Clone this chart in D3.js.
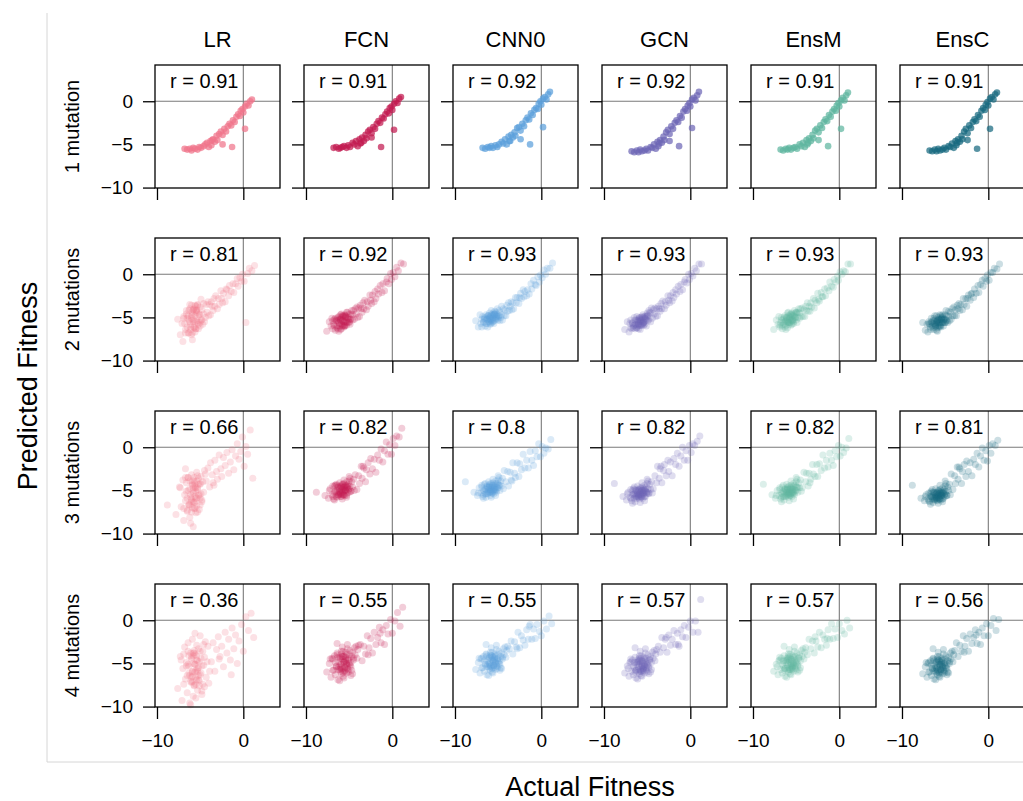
<!DOCTYPE html>
<html>
<head>
<meta charset="utf-8">
<script src="https://cdn.jsdelivr.net/npm/d3@7"></script>
<style>
  html, body { margin: 0; padding: 0; background: #fff; }
  svg { display: block; font-family: "Liberation Sans", Arial, Helvetica, sans-serif; }
</style>
</head>
<body>
<svg id="chart" width="1023" height="801"></svg>
<script>
// Models (columns) and number of mutations (rows)
const models = ["LR", "FCN", "CNN0", "GCN", "EnsM", "EnsC"];
const rowLabels = ["1 mutation", "2 mutations", "3 mutations", "4 mutations"];
const modelColors = ["#f0758a", "#c21a50", "#5b9fdb", "#6e66b6", "#5eb59f", "#176a80"];

// Pearson r for each row x model
const rRow1 = [0.91, 0.91, 0.92, 0.92, 0.91, 0.91];
const rRow2 = [0.81, 0.92, 0.93, 0.93, 0.93, 0.93];
const rRow3 = [0.66, 0.82, 0.8, 0.82, 0.82, 0.81];
const rRow4 = [0.36, 0.55, 0.55, 0.57, 0.57, 0.56];

const xTicks = [-10, 0];
const yTicks = [-10, -5, 0];

// ---- 1 mutation ----
const actual1 = [-6.8,-6.5,-6.2,-6.0,-5.8,-5.6,-5.3,-5.1,-4.9,-4.6,
  -4.4,-4.2,-4.0,-3.8,-3.7,-3.5,-3.3,-3.1,-3.0,-2.8,
  -2.6,-2.4,-2.2,-2.0,-1.8,-1.6,-1.4,-1.2,-1.0,-0.8,
  -0.6,-0.4,-0.3,-0.1,0.0,0.2,0.4,0.6,0.8,1.0,
  -1.3,0.2,-3.6,-2.4];
const lr1 = [-5.5,-5.6,-5.5,-5.7,-5.4,-5.5,-5.6,-5.3,-5.4,-5.2,
  -5.0,-4.8,-5.3,-4.6,-5.1,-4.4,-4.7,-4.0,-4.5,-3.8,
  -3.5,-3.9,-3.2,-3.5,-2.9,-2.6,-2.8,-2.2,-2.4,-1.8,
  -1.5,-1.7,-1.1,-0.9,-1.3,-0.6,-0.3,-0.5,0.0,0.2,
  -5.3,-3.2,-4.5,-5.0];
const fcn1 = [-5.4,-5.3,-5.5,-5.4,-5.3,-5.2,-5.4,-5.1,-5.3,-4.8,
  -5.0,-4.6,-5.2,-4.4,-4.9,-4.2,-4.6,-3.9,-4.3,-3.5,
  -3.3,-3.7,-3.0,-3.2,-2.6,-2.3,-2.5,-1.9,-2.0,-1.5,
  -1.2,-1.4,-0.8,-0.6,-1.0,-0.3,0.0,-0.2,0.3,0.5,
  -5.3,-3.3,-4.8,-4.2];
const cnn1 = [-5.4,-5.5,-5.3,-5.4,-5.2,-5.4,-5.1,-5.3,-5.0,-4.7,
  -4.9,-4.4,-5.0,-4.1,-4.6,-3.9,-4.2,-3.6,-4.0,-3.1,
  -3.0,-3.4,-2.6,-2.9,-2.2,-1.9,-2.1,-1.4,-1.6,-1.0,
  -0.8,-0.9,-0.3,0.0,-0.4,0.3,0.5,0.2,0.8,1.1,
  -5.0,-3.0,-4.6,-4.4];
const gcn1 = [-5.8,-5.9,-5.7,-5.9,-5.6,-5.8,-5.7,-5.5,-5.7,-5.3,
  -5.4,-5.0,-5.5,-4.7,-5.2,-4.5,-4.8,-4.1,-4.5,-3.6,
  -3.3,-3.8,-2.9,-3.2,-2.5,-2.2,-2.4,-1.7,-1.9,-1.2,
  -0.9,-1.1,-0.5,-0.2,-0.6,0.2,0.4,0.1,0.7,1.1,
  -5.2,-3.1,-4.9,-4.6];
const ensm1 = [-5.6,-5.7,-5.5,-5.6,-5.4,-5.6,-5.4,-5.3,-5.5,-5.0,
  -5.2,-4.8,-5.3,-4.5,-5.0,-4.3,-4.6,-3.9,-4.3,-3.4,
  -3.2,-3.6,-2.8,-3.1,-2.4,-2.1,-2.3,-1.6,-1.8,-1.2,
  -0.9,-1.1,-0.5,-0.2,-0.6,0.1,0.4,0.1,0.7,1.0,
  -5.2,-3.2,-4.8,-4.5];
const ensc1 = [-5.7,-5.8,-5.6,-5.8,-5.5,-5.7,-5.6,-5.4,-5.6,-5.2,
  -5.3,-4.9,-5.4,-4.6,-5.1,-4.4,-4.7,-4.0,-4.4,-3.5,
  -3.2,-3.7,-2.8,-3.1,-2.4,-2.1,-2.3,-1.6,-1.8,-1.1,
  -0.8,-1.0,-0.4,-0.1,-0.5,0.3,0.5,0.2,0.8,1.0,
  -5.5,-3.2,-4.8,-4.5];

// ---- 2 mutations ----
const actual2 = [-7.6,-7.3,-7.1,-7.0,-6.9,-6.8,-6.7,-6.6,-6.5,-6.4,
  -6.3,-6.3,-6.2,-6.1,-6.0,-6.0,-5.9,-5.8,-5.8,-5.7,
  -5.6,-5.6,-5.5,-5.4,-5.4,-5.3,-5.2,-5.1,-5.0,-5.0,
  -4.9,-4.8,-4.8,-4.7,-4.6,-4.6,-4.5,-6.2,-5.9,-5.5,
  -4.4,-4.3,-4.2,-4.1,-4.0,-3.9,-3.8,-3.7,-3.6,-3.5,
  -3.4,-3.3,-3.2,-3.0,-2.9,-2.8,-2.6,-2.5,-2.4,-2.3,-2.1,-2.0,
  -1.9,-1.7,-1.6,-1.4,-1.2,-1.1,-0.9,-0.7,-0.6,-0.4,
  -0.2,-0.1,0.1,0.3,0.5,0.7,1.0,1.3,
  -6.9,-6.7,-6.6,-6.4,-6.3,-6.2,-6.1,-6.0,-5.9,-5.9,
  -5.8,-5.7,-5.7,-5.6,-5.5,-5.5,-5.4,-5.3,-5.3,-5.2,
  -5.1,-5.0,-6.5,-6.1,-5.8,-5.6,-5.4,-5.2,-4.9,-6.0];
const lr2 = [-5.2,-7.0,-5.7,-7.8,-4.9,-5.7,-6.8,-4.2,-6.1,-4.8,
  -6.8,-4.2,-5.5,-6.1,-3.6,-7.0,-4.7,-5.5,-4.1,-6.2,
  -4.8,-3.6,-6.3,-4.2,-5.4,-3.6,-6.3,-4.7,-3.8,-5.6,
  -2.9,-5.3,-4.1,-5.8,-3.4,-4.6,-5.5,-3.5,-7.6,-3.7,
  -5.0,-3.5,-4.4,-3.2,-4.8,-3.5,-4.7,-3.2,-3.7,-4.2,
  -2.8,-3.7,-2.5,-4.0,-2.8,-3.5,-1.9,-2.8,-3.3,-2.2,-3.2,-1.7,
  -1.8,-2.5,-1.3,-2.0,-1.1,-2.1,-1.1,-0.5,-1.4,-0.4,
  -0.8,0.0,-0.8,-5.6,0.1,0.7,0.4,1.0,
  -5.1,-6.4,-4.6,-6.8,-5.3,-4.0,-6.4,-4.8,-6.8,-4.4,
  -5.3,-6.1,-4.0,-5.5,-4.2,-6.3,-4.4,-5.6,-3.5,-5.8,
  -4.6,-6.0,-5.1,-5.8,-4.1,-6.7,-4.1,-4.9,-5.3,-5.1];
const fcn2 = [-6.6,-5.5,-6.0,-5.1,-6.3,-5.8,-5.2,-6.5,-5.4,-6.0,
  -5.0,-6.3,-5.6,-5.2,-6.4,-4.7,-5.8,-5.3,-6.0,-4.9,
  -5.5,-6.1,-4.7,-5.6,-5.0,-5.9,-4.4,-5.2,-5.5,-4.6,
  -5.8,-4.6,-5.2,-4.2,-5.3,-4.7,-4.2,-6.6,-4.6,-6.0,
  -5.2,-4.0,-4.6,-3.8,-5.0,-3.9,-4.9,-3.6,-4.0,-4.4,
  -3.3,-4.0,-3.0,-4.1,-3.2,-3.7,-2.4,-3.0,-3.4,-2.4,-3.2,-2.0,
  -2.8,-1.7,-2.3,-1.3,-2.1,-1.1,-1.9,-0.9,-0.5,-1.1,
  0.1,-0.6,0.2,-0.3,0.8,0.4,1.3,1.2,
  -5.4,-6.0,-5.1,-6.2,-5.4,-4.9,-6.0,-5.2,-6.3,-5.0,
  -5.4,-5.9,-4.8,-5.5,-4.8,-5.9,-4.9,-5.5,-4.4,-5.6,
  -5.0,-5.6,-5.3,-5.7,-4.8,-6.0,-4.8,-5.1,-5.2,-5.3];
const cnn2 = [-5.4,-6.1,-4.7,-5.7,-6.1,-4.9,-5.5,-5.2,-6.0,-4.7,
  -5.7,-5.2,-6.1,-4.8,-4.5,-5.5,-5.8,-4.2,-5.3,-5.6,
  -4.5,-5.0,-5.7,-4.6,-4.3,-5.3,-4.9,-4.0,-5.3,-4.9,
  -4.2,-5.4,-4.4,-5.0,-3.7,-4.7,-5.3,-4.8,-5.3,-4.7,
  -4.0,-4.8,-4.1,-4.8,-3.6,-4.3,-3.3,-4.2,-3.7,-3.2,
  -4.1,-3.3,-4.0,-2.7,-3.3,-2.7,-3.4,-2.7,-2.2,-2.8,-1.8,-2.6,
  -2.0,-2.5,-1.8,-2.3,-1.1,-1.7,-0.7,-1.2,-1.3,-0.3,
  -0.9,-0.1,-0.4,0.5,0.0,0.7,0.7,1.3,
  -5.2,-5.6,-5.0,-5.7,-5.2,-4.8,-5.5,-5.0,-5.7,-4.9,
  -5.1,-5.4,-4.7,-5.1,-4.7,-5.4,-4.7,-5.1,-4.4,-5.1,
  -4.7,-5.1,-5.1,-5.3,-4.7,-5.5,-4.6,-4.8,-4.8,-5.1];
const gcn2 = [-6.4,-5.5,-6.7,-5.7,-5.3,-6.3,-5.7,-6.0,-5.0,-6.3,
  -5.3,-5.8,-4.9,-6.0,-6.3,-5.3,-5.0,-6.4,-5.3,-5.0,
  -5.9,-5.4,-4.7,-5.6,-5.9,-4.9,-5.1,-6.0,-4.5,-4.9,
  -5.4,-4.2,-5.2,-4.4,-5.5,-4.5,-3.9,-6.2,-5.5,-5.7,
  -5.1,-4.1,-4.6,-3.9,-4.9,-4.0,-4.8,-3.7,-4.0,-4.3,
  -3.4,-4.0,-3.1,-4.0,-3.2,-3.6,-2.5,-3.0,-3.3,-2.5,-3.1,-2.1,
  -2.7,-1.8,-2.3,-1.4,-2.0,-1.2,-1.8,-0.9,-0.6,-1.0,
  0.0,-0.6,0.1,-0.2,0.7,0.4,1.2,1.2,
  -6.2,-5.6,-6.2,-5.3,-5.8,-6.2,-5.3,-5.8,-5.1,-5.9,
  -5.5,-5.2,-5.9,-5.3,-5.7,-5.0,-5.5,-5.1,-5.8,-4.9,
  -5.3,-4.7,-5.9,-5.5,-5.9,-4.9,-5.6,-5.2,-4.8,-5.7];
const ensm2 = [-6.4,-5.3,-5.8,-4.9,-6.1,-5.6,-5.0,-6.3,-5.2,-5.8,
  -4.8,-6.1,-5.4,-5.0,-6.2,-4.5,-5.6,-5.1,-5.8,-4.7,
  -5.3,-5.9,-4.5,-5.4,-4.8,-5.7,-4.2,-5.0,-5.3,-4.4,
  -5.6,-4.4,-5.0,-4.0,-5.1,-4.5,-4.0,-6.4,-4.4,-5.8,
  -4.9,-3.9,-4.9,-4.1,-4.9,-3.7,-4.2,-3.3,-4.3,-3.7,
  -4.3,-3.3,-3.8,-2.8,-3.9,-3.0,-3.3,-2.2,-2.9,-3.1,-2.1,-2.6,
  -2.6,-1.7,-2.5,-1.6,-1.9,-0.9,-1.4,-1.5,-0.6,-0.9,
  -0.2,-0.7,0.3,0.0,0.4,0.3,1.2,1.2,
  -5.9,-5.3,-5.9,-5.0,-5.5,-5.9,-5.0,-5.5,-4.8,-5.6,
  -5.2,-4.9,-5.6,-5.0,-5.4,-4.7,-5.2,-4.8,-5.5,-4.6,
  -5.0,-4.4,-5.6,-5.2,-5.6,-4.6,-5.3,-4.9,-4.5,-5.4];
const ensc2 = [-5.6,-6.5,-5.8,-6.7,-5.5,-5.8,-6.4,-5.1,-6.0,-5.4,
  -6.4,-5.1,-5.8,-6.0,-4.8,-6.5,-5.4,-5.7,-5.0,-6.1,
  -5.3,-4.7,-6.1,-5.0,-5.6,-4.7,-6.0,-5.2,-4.7,-5.6,
  -4.2,-5.4,-4.8,-5.6,-4.3,-4.9,-5.4,-4.8,-6.6,-4.8,
  -4.4,-5.2,-4.0,-4.8,-3.8,-4.8,-4.1,-4.8,-3.6,-4.0,
  -3.4,-4.2,-3.5,-4.1,-2.8,-3.5,-2.8,-3.7,-2.8,-2.4,-3.0,-2.3,
  -2.2,-2.7,-1.7,-2.2,-1.3,-2.1,-1.2,-0.7,-1.4,-0.5,
  -0.8,-0.1,-0.7,0.2,0.2,0.7,0.6,1.2,
  -5.7,-6.1,-5.5,-6.2,-5.7,-5.3,-6.0,-5.5,-6.2,-5.4,
  -5.6,-5.9,-5.2,-5.6,-5.2,-5.9,-5.2,-5.6,-4.9,-5.6,
  -5.2,-5.6,-5.6,-5.8,-5.2,-6.0,-5.1,-5.3,-5.3,-5.6];

// ---- 3 mutations ----
const actual3 = [-7.8,-7.4,-7.2,-7.0,-6.9,-6.8,-6.7,-6.6,-6.5,-6.4,
  -6.4,-6.3,-6.2,-6.2,-6.1,-6.0,-6.0,-5.9,-5.9,-5.8,
  -5.8,-5.7,-5.7,-5.6,-5.6,-5.5,-5.5,-5.4,-5.4,-5.3,
  -5.2,-5.2,-5.1,-5.0,-5.0,-4.9,-4.8,-4.7,-4.6,-4.5,
  -6.1,-5.8,-5.6,-5.3,-4.9,-6.5,-6.7,-5.0,-4.4,-8.8,
  -4.3,-4.1,-3.9,-3.8,-3.6,-3.5,-3.3,-3.1,-3.0,-2.8,
  -2.6,-2.5,-2.3,-2.1,-1.9,-1.7,-1.5,-1.3,-1.1,-0.9,
  -0.7,-0.5,-0.3,-0.1,0.1,0.3,0.5,0.8,1.1,-3.4,
  -7.3,-6.9,-6.7,-6.5,-6.3,-6.2,-6.1,-6.0,-5.9,-5.8,
  -5.8,-5.7,-5.6,-5.5,-5.5,-5.4,-5.3,-5.2,-5.1,-5.0,
  -6.6,-6.4,-6.0,-5.7,-5.6,-5.4,-5.9,-6.2,-5.3,-4.8];
const lr3 = [-7.8,-4.6,-6.9,-3.8,-8.5,-5.5,-6.2,-4.1,-7.3,-5.0,
  -3.5,-6.6,-4.8,-8.1,-5.8,-3.2,-6.0,-7.0,-4.4,-5.3,
  -9.2,-6.4,-3.9,-5.7,-4.6,-7.6,-5.1,-2.9,-6.8,-4.9,
  -5.6,-3.6,-7.2,-4.3,-5.9,-3.4,-6.1,-4.0,-5.2,-2.7,
  -8.8,-4.7,-6.3,-3.3,-5.4,-7.4,-2.5,-4.2,-3.1,-6.7,
  -3.9,-2.4,-4.6,-1.8,-3.2,-4.1,-1.5,-2.8,-3.7,-0.9,
  -2.5,-3.4,-1.2,-2.1,-0.6,-3.0,-1.7,-0.3,-2.6,-1.0,
  0.4,-1.4,-0.5,1.2,-2.2,0.1,-0.8,2.0,-3.6,-4.4,
  -4.7,-7.1,-3.5,-5.9,-6.7,-3.9,-5.5,-7.5,-4.3,-5.1,
  -6.3,-3.5,-7.1,-4.7,-5.9,-3.9,-7.5,-4.3,-5.5,-6.7,
  -5.1,-3.5,-6.3,-7.1,-4.3,-5.9,-3.9,-6.7,-4.7,-6.3];
const fcn3 = [-5.6,-5.9,-4.8,-5.5,-4.5,-6.0,-5.2,-4.4,-5.7,-5.0,
  -5.8,-4.6,-5.3,-5.5,-4.8,-5.4,-4.5,-5.7,-5.0,-4.3,
  -5.2,-5.5,-4.7,-5.1,-4.2,-4.9,-5.6,-4.5,-5.0,-4.0,
  -4.7,-5.3,-4.3,-4.8,-3.9,-4.5,-5.1,-4.0,-4.6,-3.7,
  -4.1,-6.0,-3.8,-5.8,-3.6,-4.3,-6.1,-3.4,-5.0,-5.2,
  -3.2,-4.9,-3.3,-4.2,-2.2,-3.6,-2.4,-4.0,-2.6,-1.8,
  -3.1,-1.3,-2.5,-1.4,-2.9,-0.9,-1.5,-0.2,-1.7,-0.4,
  0.6,-0.8,0.3,-0.8,1.0,0.2,1.3,1.2,2.2,-2.2,
  -5.0,-5.7,-4.5,-5.2,-5.5,-4.6,-5.1,-5.7,-4.6,-4.9,
  -5.3,-4.3,-5.5,-4.6,-5.0,-4.4,-5.6,-4.5,-4.9,-5.2,
  -5.1,-4.4,-5.3,-5.5,-4.6,-5.0,-4.5,-5.5,-4.6,-5.1];
const cnn3 = [-5.2,-5.6,-4.7,-5.3,-4.4,-5.7,-5.0,-4.3,-5.4,-4.9,
  -5.8,-4.5,-5.1,-5.4,-4.7,-5.2,-4.4,-5.6,-4.9,-4.2,
  -5.1,-5.3,-4.6,-5.0,-4.1,-4.8,-5.4,-4.4,-4.9,-3.9,
  -4.6,-5.2,-4.2,-4.7,-3.8,-4.4,-5.0,-3.9,-4.5,-3.6,
  -4.0,-5.8,-3.7,-5.6,-3.5,-4.2,-5.9,-3.3,-4.8,-4.0,
  -2.7,-4.0,-2.8,-4.5,-2.9,-3.8,-1.8,-3.0,-3.5,-1.8,
  -3.4,-1.9,-2.6,-0.8,-2.4,-1.5,-2.4,-0.5,-1.5,-2.1,
  -0.4,-1.1,0.4,-1.1,0.1,-0.7,-0.1,-0.2,0.9,-3.9,
  -5.3,-4.6,-5.5,-4.8,-4.6,-5.3,-4.9,-4.3,-5.1,-4.9,
  -4.6,-5.3,-4.4,-4.9,-4.6,-5.1,-4.2,-5.0,-4.7,-4.3,
  -5.1,-5.4,-4.6,-4.4,-5.1,-4.6,-5.2,-4.6,-4.9,-4.4];
const gcn3 = [-5.7,-6.1,-5.2,-5.8,-4.9,-6.2,-5.5,-4.8,-5.9,-5.4,
  -6.3,-5.0,-5.6,-5.9,-5.2,-5.7,-4.9,-6.0,-5.4,-4.7,
  -5.6,-5.8,-5.1,-5.5,-4.6,-5.3,-5.9,-4.9,-5.4,-4.4,
  -5.1,-5.7,-4.6,-5.2,-4.2,-4.8,-5.4,-4.3,-4.9,-4.0,
  -4.5,-6.4,-4.1,-6.2,-3.9,-4.6,-6.5,-3.7,-5.3,-4.2,
  -4.8,-3.3,-4.1,-2.2,-3.6,-2.5,-4.1,-2.7,-2.0,-3.3,
  -1.5,-2.8,-1.7,-3.3,-1.3,-2.0,-0.7,-2.2,-1.0,0.0,
  -1.5,-0.4,-1.5,0.2,-0.6,0.4,0.2,0.7,1.3,-2.2,
  -5.4,-5.9,-5.0,-5.5,-5.7,-5.0,-5.4,-5.8,-5.0,-5.2,
  -5.5,-4.8,-5.7,-5.0,-5.3,-4.8,-5.7,-4.9,-5.2,-5.4,
  -5.4,-4.9,-5.5,-5.7,-5.0,-5.3,-4.9,-5.7,-5.0,-5.3];
const ensm3 = [-5.5,-5.9,-5.0,-5.6,-4.7,-6.0,-5.3,-4.6,-5.7,-5.2,
  -6.1,-4.8,-5.4,-5.7,-5.0,-5.5,-4.7,-5.8,-5.2,-4.5,
  -5.4,-5.6,-4.9,-5.3,-4.4,-5.1,-5.7,-4.7,-5.2,-4.2,
  -4.9,-5.5,-4.4,-5.0,-4.0,-4.6,-5.2,-4.1,-4.7,-3.8,
  -4.3,-6.2,-3.9,-6.0,-3.7,-4.4,-6.3,-3.5,-5.1,-4.3,
  -4.7,-2.9,-4.0,-3.0,-4.5,-3.0,-3.7,-2.0,-3.1,-3.4,
  -2.0,-3.4,-1.9,-2.7,-0.9,-2.4,-1.5,-2.3,-0.7,-1.5,
  -2.1,-0.4,-1.1,0.2,-1.0,0.0,-0.6,-0.1,1.0,-4.1,
  -5.6,-4.9,-5.8,-5.1,-4.9,-5.6,-5.2,-4.6,-5.4,-5.2,
  -4.9,-5.6,-4.7,-5.2,-4.9,-5.4,-4.5,-5.3,-5.0,-4.6,
  -5.4,-5.7,-4.9,-4.7,-5.4,-4.9,-5.5,-4.9,-5.2,-4.7];
const ensc3 = [-5.9,-6.2,-5.5,-6.0,-5.3,-6.3,-5.7,-5.1,-6.0,-5.6,
  -6.4,-5.2,-5.8,-6.1,-5.5,-5.9,-5.3,-6.2,-5.6,-5.0,
  -5.8,-6.0,-5.4,-5.7,-4.9,-5.5,-6.1,-5.2,-5.6,-4.7,
  -5.3,-5.9,-4.9,-5.4,-4.5,-5.1,-5.6,-4.6,-5.0,-4.3,
  -4.8,-6.5,-4.4,-6.3,-4.2,-4.9,-6.6,-3.9,-5.5,-4.4,
  -3.1,-4.9,-3.3,-4.2,-2.3,-3.7,-2.5,-4.2,-2.8,-2.0,
  -3.4,-1.6,-2.8,-1.8,-3.3,-1.4,-2.0,-0.7,-2.3,-1.0,
  -0.1,-1.5,-0.4,-1.6,0.2,-0.7,0.4,0.2,0.8,-2.3,
  -5.7,-6.2,-5.3,-5.8,-6.0,-5.3,-5.7,-6.1,-5.3,-5.5,
  -5.8,-5.1,-6.0,-5.3,-5.6,-5.1,-6.0,-5.2,-5.5,-5.7,
  -5.7,-5.2,-5.8,-6.0,-5.3,-5.6,-5.2,-6.0,-5.3,-5.6];

// ---- 4 mutations ----
const actual4 = [-7.6,-7.3,-7.1,-7.0,-6.8,-6.7,-6.6,-6.5,-6.4,-6.3,
  -6.3,-6.2,-6.1,-6.0,-6.0,-5.9,-5.9,-5.8,-5.8,-5.7,
  -5.7,-5.6,-5.6,-5.5,-5.5,-5.4,-5.4,-5.3,-5.3,-5.2,
  -5.2,-5.1,-5.0,-5.0,-4.9,-4.8,-4.7,-4.6,-4.5,-4.4,
  -4.3,-4.2,-4.1,-4.0,-3.9,-6.1,-5.8,-5.6,-5.2,-4.8,
  -6.9,-6.4,-5.5,-4.6,-5.9,
  -3.7,-3.5,-3.3,-3.1,-2.9,-2.7,-2.5,-2.3,-2.1,-1.9,
  -1.7,-1.5,-1.3,-1.1,-0.9,-0.7,-0.5,-0.2,0.0,0.3,
  0.6,0.9,1.2,-2.8,-1.4,
  -7.2,-6.9,-6.6,-6.4,-6.2,-6.1,-6.0,-5.9,-5.8,-5.7,
  -5.6,-5.5,-5.4,-5.3,-5.2,-5.1,-5.0,-4.9,-4.7,-4.5,
  -6.5,-6.3,-5.9,-5.6,-5.4,-5.1,-4.8,-6.0,-5.7,-5.3];
const lr4 = [-7.9,-4.2,-9.3,-5.6,-3.1,-6.8,-4.9,-8.4,-2.6,-6.1,
  -5.3,-9.6,-3.8,-7.2,-4.5,-6.5,-2.2,-8.8,-5.0,-3.5,
  -7.5,-6.0,-4.0,-9.0,-5.8,-2.9,-6.9,-4.7,-8.1,-3.3,
  -5.5,-7.0,-1.8,-6.3,-4.4,-8.6,-3.6,-5.2,-7.7,-2.5,
  -6.6,-4.8,-3.0,-7.3,-5.9,-9.8,-4.1,-1.5,-6.4,-8.2,
  -3.9,-5.1,-7.4,-2.8,-6.0,
  -4.8,-2.6,-5.9,-3.4,-1.9,-4.2,-3.0,-5.4,-1.4,-3.8,
  -2.2,-4.6,-0.9,-3.3,-1.7,-5.0,-2.4,-0.5,-3.6,0.4,
  -1.2,0.8,-2.0,-4.5,-6.3,
  -4.6,-7.4,-5.3,-3.6,-6.4,-7.1,-4.3,-5.9,-3.8,-7.6,
  -5.1,-6.6,-4.1,-5.6,-6.9,-4.8,-3.6,-6.1,-7.4,-4.3,
  -6.4,-4.1,-7.1,-5.1,-4.6,-7.6,-5.3,-6.6,-3.8,-5.9];
const fcn4 = [-6.0,-5.0,-6.6,-4.4,-5.8,-4.1,-6.3,-5.3,-3.8,-5.7,
  -6.9,-4.8,-4.3,-5.9,-5.1,-3.9,-6.2,-4.5,-5.6,-3.6,
  -6.5,-4.9,-4.2,-5.4,-5.8,-3.7,-4.7,-6.1,-4.0,-5.2,
  -3.3,-5.7,-4.4,-5.0,-3.5,-5.4,-4.2,-3.7,-4.6,-3.2,
  -4.0,-3.0,-4.4,-3.4,-2.9,-7.0,-3.1,-6.7,-2.8,-6.4,
  -4.5,-2.7,-5.9,-6.2,-3.6,
  -2.8,-4.7,-3.0,-3.9,-1.8,-3.2,-2.1,-3.8,-1.4,-2.8,
  -2.0,-0.8,-2.6,-1.1,-2.8,-0.6,-1.6,0.1,-1.5,-0.1,
  0.9,-0.7,1.5,-4.0,-1.5,
  -4.5,-5.8,-4.9,-4.0,-5.4,-5.7,-4.4,-5.1,-4.2,-6.0,
  -4.8,-5.5,-4.3,-5.0,-5.6,-4.6,-4.0,-5.2,-5.8,-4.4,
  -5.4,-4.3,-5.7,-4.8,-4.5,-6.0,-4.9,-5.5,-4.2,-5.1];
const cnn4 = [-5.7,-4.9,-6.1,-4.5,-5.5,-4.2,-5.9,-5.1,-3.9,-5.4,
  -6.3,-4.7,-4.4,-5.6,-5.0,-4.0,-5.8,-4.5,-5.3,-3.7,
  -6.0,-4.8,-4.3,-5.2,-5.5,-3.9,-4.6,-5.7,-4.1,-5.0,
  -3.4,-5.4,-4.4,-4.8,-3.6,-5.1,-4.2,-3.8,-4.5,-3.3,
  -4.0,-3.1,-4.3,-3.5,-3.0,-6.4,-3.2,-6.1,-2.9,-5.8,
  -4.4,-2.8,-5.3,-5.6,-3.7,
  -3.3,-2.4,-3.9,-2.5,-3.1,-1.4,-3.2,-1.8,-2.3,-2.9,
  -1.1,-2.2,-0.5,-2.2,-1.0,-2.1,-0.5,-1.3,-1.8,-0.1,
  -1.0,0.5,-0.4,-3.3,-0.7,
  -4.4,-5.5,-4.7,-4.0,-5.1,-5.4,-4.3,-4.9,-4.1,-5.6,
  -4.6,-5.2,-4.2,-4.8,-5.3,-4.5,-4.0,-5.0,-5.5,-4.3,
  -5.1,-4.2,-5.4,-4.6,-4.4,-5.6,-4.7,-5.2,-4.1,-4.9];
const gcn4 = [-6.1,-5.3,-6.5,-4.9,-5.9,-4.6,-6.3,-5.5,-4.3,-5.8,
  -6.7,-5.1,-4.8,-6.0,-5.4,-4.4,-6.2,-4.9,-5.7,-4.1,
  -6.4,-5.2,-4.7,-5.6,-5.9,-4.3,-5.0,-6.1,-4.5,-5.4,
  -3.8,-5.8,-4.8,-5.2,-4.0,-5.5,-4.6,-4.2,-4.9,-3.7,
  -4.4,-3.5,-4.7,-3.9,-3.4,-6.8,-3.6,-6.5,-3.3,-6.2,
  -4.8,-3.2,-5.7,-6.0,-4.1,
  -3.0,-3.7,-2.0,-3.2,-2.2,-3.7,-1.7,-2.9,-2.2,-1.2,
  -2.8,-1.5,-3.0,-1.1,-1.9,-0.6,-2.0,-0.8,-0.1,-1.4,
  -0.1,-1.4,2.4,-2.0,-2.8,
  -5.6,-4.5,-5.3,-6.0,-4.9,-4.6,-5.7,-5.1,-5.9,-4.4,
  -5.4,-4.8,-5.8,-5.2,-4.7,-5.5,-6.0,-5.0,-4.5,-5.7,
  -4.9,-5.8,-4.6,-5.4,-5.6,-4.4,-5.3,-4.8,-5.9,-5.1];
const ensm4 = [-5.9,-5.1,-6.3,-4.7,-5.7,-4.4,-6.1,-5.3,-4.1,-5.6,
  -6.5,-4.9,-4.6,-5.8,-5.2,-4.2,-6.0,-4.7,-5.5,-3.9,
  -6.2,-5.0,-4.5,-5.4,-5.7,-4.1,-4.8,-5.9,-4.3,-5.2,
  -3.6,-5.6,-4.6,-5.0,-3.8,-5.3,-4.4,-4.0,-4.7,-3.5,
  -4.2,-3.3,-4.5,-3.7,-3.2,-6.6,-3.4,-6.3,-3.1,-6.0,
  -4.6,-3.0,-5.5,-5.8,-3.9,
  -4.0,-2.2,-3.3,-2.4,-3.8,-2.4,-3.1,-1.4,-3.2,-1.7,
  -2.2,-2.9,-1.1,-2.2,-0.4,-2.1,-1.0,-2.0,-0.4,-1.2,
  -1.6,0.0,-0.9,-1.9,-2.1,
  -5.4,-4.3,-5.1,-5.8,-4.7,-4.4,-5.5,-4.9,-5.7,-4.2,
  -5.2,-4.6,-5.6,-5.0,-4.5,-5.3,-5.8,-4.8,-4.3,-5.5,
  -4.7,-5.6,-4.4,-5.2,-5.4,-4.2,-5.1,-4.6,-5.7,-4.9];
const ensc4 = [-6.2,-5.4,-6.6,-5.0,-6.0,-4.7,-6.4,-5.6,-4.4,-5.9,
  -6.8,-5.2,-4.9,-6.1,-5.5,-4.5,-6.3,-5.0,-5.8,-4.2,
  -6.5,-5.3,-4.8,-5.7,-6.0,-4.4,-5.1,-6.2,-4.6,-5.5,
  -3.9,-5.9,-4.9,-5.3,-4.1,-5.6,-4.7,-4.3,-5.0,-3.8,
  -4.5,-3.6,-4.8,-4.0,-3.5,-6.9,-3.7,-6.6,-3.4,-6.3,
  -4.9,-3.3,-5.8,-6.1,-4.2,
  -2.6,-4.2,-2.9,-3.6,-1.8,-3.0,-2.1,-3.6,-1.6,-2.7,
  -2.0,-1.1,-2.7,-1.4,-2.8,-0.9,-1.8,-0.4,-1.8,-0.6,
  0.2,-1.2,0.1,-3.7,-1.7,
  -4.9,-6.0,-5.2,-4.5,-5.6,-5.9,-4.8,-5.4,-4.6,-6.1,
  -5.1,-5.7,-4.7,-5.3,-5.8,-5.0,-4.5,-5.5,-6.0,-4.8,
  -5.6,-4.7,-5.9,-5.1,-4.9,-6.1,-5.2,-5.7,-4.6,-5.4];

// Assemble the grid: one entry per row
const grid = [
  { actual: actual1, preds: [lr1, fcn1, cnn1, gcn1, ensm1, ensc1], r: rRow1 },
  { actual: actual2, preds: [lr2, fcn2, cnn2, gcn2, ensm2, ensc2], r: rRow2 },
  { actual: actual3, preds: [lr3, fcn3, cnn3, gcn3, ensm3, ensc3], r: rRow3 },
  { actual: actual4, preds: [lr4, fcn4, cnn4, gcn4, ensm4, ensc4], r: rRow4 }
];

// ---- layout ----
const panelW = 125, panelH = 123;
const left0 = 155, top0 = 65, colStep = 149, rowStep = 173;
const pointAlpha = [0.72, 0.22, 0.22, 0.22];
const pointRadius = [3.3, 3.5, 3.5, 3.5];

const svg = d3.select("#chart");

// light outer frame
svg.append("line").attr("x1", 47).attr("x2", 47).attr("y1", 13).attr("y2", 762)
  .attr("stroke", "#d6d6d6").attr("stroke-width", 1);
svg.append("line").attr("x1", 47).attr("x2", 1023).attr("y1", 762).attr("y2", 762)
  .attr("stroke", "#d6d6d6").attr("stroke-width", 1);

const x = d3.scaleLinear().domain([-10.23, 4.25]).range([0, panelW]);
const y = d3.scaleLinear().domain([-10.05, 4.2]).range([panelH, 0]);

grid.forEach((row, ri) => {
  models.forEach((model, ci) => {
    const g = svg.append("g")
      .attr("transform", `translate(${left0 + ci * colStep},${top0 + ri * rowStep})`);

    // zero reference lines
    g.append("line").attr("x1", 0).attr("x2", panelW).attr("y1", y(0)).attr("y2", y(0))
      .attr("stroke", "#7a7a7a").attr("stroke-width", 1.1);
    g.append("line").attr("x1", x(0)).attr("x2", x(0)).attr("y1", 0).attr("y2", panelH)
      .attr("stroke", "#7a7a7a").attr("stroke-width", 1.1);

    const pred = row.preds[ci];
    const n = Math.min(row.actual.length, pred.length);
    const pts = d3.range(n).map(i => [row.actual[i], pred[i]]);
    g.append("g").selectAll("circle").data(pts).join("circle")
      .attr("cx", d => x(d[0])).attr("cy", d => y(d[1])).attr("r", pointRadius[ri])
      .attr("fill", modelColors[ci]).attr("fill-opacity", pointAlpha[ri]);

    // axes: ticks everywhere, labels on outer panels only
    const ax = g.append("g").attr("transform", `translate(0,${panelH})`)
      .call(d3.axisBottom(x).tickValues(xTicks).tickSize(12).tickPadding(15)
        .tickFormat(ri === grid.length - 1 ? d3.format("") : () => ""));
    const ay = g.append("g")
      .call(d3.axisLeft(y).tickValues(yTicks).tickSize(12).tickPadding(10)
        .tickFormat(ci === 0 ? d3.format("") : () => ""));
    [ax, ay].forEach(a => {
      a.select(".domain").remove();
      a.selectAll("line").attr("stroke", "#000").attr("stroke-width", 1.3);
      a.selectAll("text").attr("fill", "#000").attr("font-size", 19)
        .attr("font-family", "Liberation Sans, Arial, sans-serif");
    });

    // panel frame
    g.append("rect").attr("width", panelW).attr("height", panelH)
      .attr("fill", "none").attr("stroke", "#000").attr("stroke-width", 1.3);

    // correlation label
    g.append("text").attr("x", 15).attr("y", 22.5)
      .attr("font-size", 20).attr("fill", "#000")
      .text(`r = ${row.r[ci]}`);

    if (ri === 0) {
      svg.append("text").attr("x", left0 + ci * colStep + panelW / 2).attr("y", 47)
        .attr("text-anchor", "middle").attr("font-size", 22).attr("fill", "#000")
        .text(model);
    }
  });

  // row label
  const cy = top0 + ri * rowStep + panelH / 2;
  svg.append("text").attr("transform", `translate(79,${cy}) rotate(-90)`)
    .attr("text-anchor", "middle").attr("font-size", 20).attr("fill", "#000")
    .text(rowLabels[ri]);
});

// axis titles
svg.append("text").attr("x", 590).attr("y", 796).attr("text-anchor", "middle")
  .attr("font-size", 27).attr("fill", "#000").text("Actual Fitness");
svg.append("text").attr("transform", "translate(37,386) rotate(-90)")
  .attr("text-anchor", "middle").attr("font-size", 27).attr("fill", "#000")
  .text("Predicted Fitness");
</script>
</body>
</html>
